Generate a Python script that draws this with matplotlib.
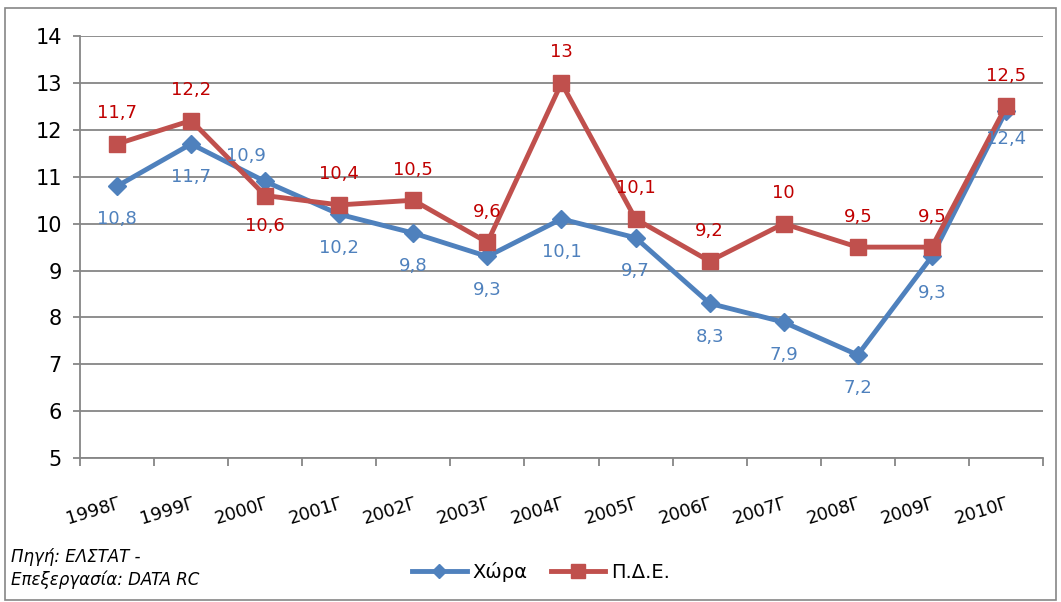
import matplotlib.pyplot as plt
from matplotlib.patches import Rectangle

# Datos
years = ['1998Γ', '1999Γ', '2000Γ', '2001Γ', '2002Γ', '2003Γ', '2004Γ',
         '2005Γ', '2006Γ', '2007Γ', '2008Γ', '2009Γ', '2010Γ']
xwra = [10.8, 11.7, 10.9, 10.2, 9.8, 9.3, 10.1, 9.7, 8.3, 7.9, 7.2, 9.3, 12.4]
pde = [11.7, 12.2, 10.6, 10.4, 10.5, 9.6, 13, 10.1, 9.2, 10, 9.5, 9.5, 12.5]

# posiciones de etiquetas (desplazamiento en puntos)
xwra_off = [(0, -24), (0, -24), (-14, 18), (0, -24), (0, -24), (0, -24), (0, -24),
            (0, -24), (0, -24), (0, -24), (0, -24), (0, -26), (0, -20)]
pde_off = [(0, 22), (0, 22), (0, -22), (0, 22), (0, 22), (0, 22), (0, 22),
           (0, 22), (0, 22), (0, 22), (0, 22), (0, 22), (0, 22)]

blue = '#4F81BD'
red = '#C0504D'
grid = '#868686'

plt.rcParams['font.family'] = ['DejaVu Sans']

fig = plt.figure(figsize=(10.61, 6.02), dpi=100)
ax = fig.add_axes([0.0754, 0.239, 0.9076, 0.701])

x = list(range(len(years)))
ax.plot(x, xwra, color=blue, lw=3.5, marker='D', markersize=9, label='Χώρα', zorder=3)
ax.plot(x, pde, color=red, lw=3.5, marker='s', markersize=12, label='Π.Δ.Ε.', zorder=3)

def fmt(v):
    s = ('%g' % v).replace('.', ',')
    return s

for i, v in enumerate(xwra):
    ax.annotate(fmt(v), (i, v), xytext=xwra_off[i], textcoords='offset points',
                ha='center', va='center', color=blue, fontsize=13, zorder=4)
for i, v in enumerate(pde):
    ax.annotate(fmt(v), (i, v), xytext=pde_off[i], textcoords='offset points',
                ha='center', va='center', color='#C00000', fontsize=13, zorder=4)

ax.set_xlim(-0.5, len(years) - 0.5)
ax.set_ylim(5, 14)
ax.set_yticks(range(5, 15))
ax.yaxis.grid(True, color=grid, lw=1.3)
ax.set_axisbelow(True)
for s in ['top', 'right']:
    ax.spines[s].set_visible(False)
ax.spines['left'].set_color(grid)
ax.spines['bottom'].set_color(grid)
ax.spines['left'].set_linewidth(1.3)
ax.spines['bottom'].set_linewidth(1.3)

ax.set_xticks([i - 0.5 for i in range(len(years) + 1)])
ax.set_xticklabels([])
ax.set_xticks(x, minor=True)
ax.set_xticklabels(years, minor=True, rotation=17, ha='right', rotation_mode='anchor',
                   fontsize=13)
ax.tick_params(axis='x', which='major', length=6, color=grid, width=1.3)
ax.tick_params(axis='x', which='minor', length=0, pad=26)
ax.tick_params(axis='y', length=5, color=grid, width=1.3, labelsize=15, pad=8)

leg = fig.legend(loc='center', bbox_to_anchor=(0.51, 0.05), ncol=2, frameon=False,
                 fontsize=14, handlelength=2.8, columnspacing=1.2, handletextpad=0.3,
                 markerscale=0.8)

fig.text(0.01, 0.055, 'Πηγή: ΕΛΣΤΑΤ -\nΕπεξεργασία: DATA RC', style='italic',
         fontsize=12, va='center', ha='left', linespacing=1.3)

fig.patches.append(Rectangle((0.005, 0.004), 0.99, 0.983, transform=fig.transFigure,
                             fill=False, edgecolor=grid, lw=1.2))

fig.savefig('out.png', dpi=100)
